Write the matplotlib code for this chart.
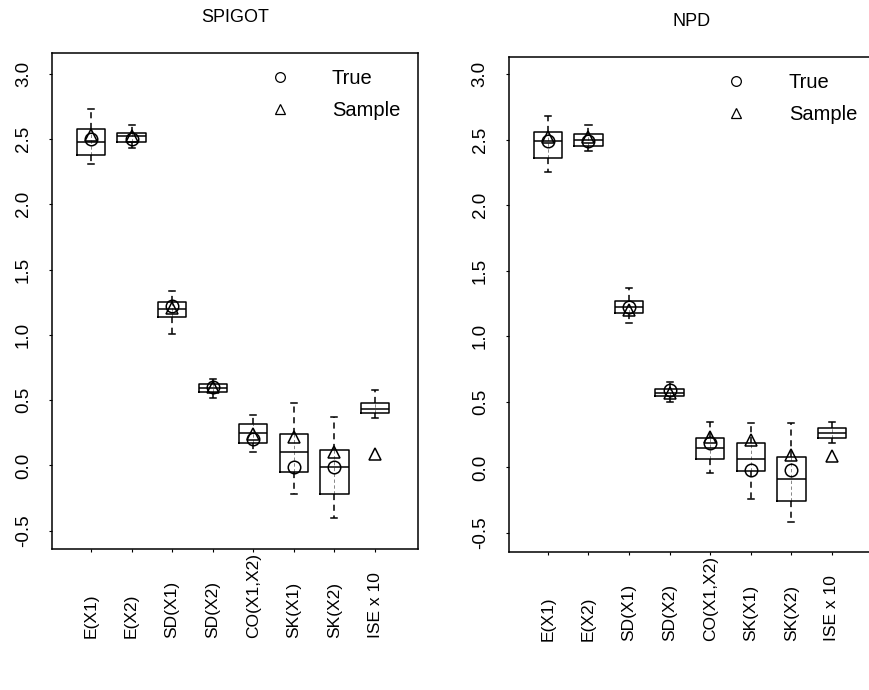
import numpy as np
import matplotlib.pyplot as plt
from matplotlib.lines import Line2D

plt.rcParams['font.family'] = ['Liberation Sans', 'DejaVu Sans']

labels = ["E(X1)", "E(X2)", "SD(X1)", "SD(X2)", "CO(X1,X2)", "SK(X1)", "SK(X2)", "ISE x 10"]

# SPIGOT panel
spigot_whislo = [2.31, 2.43, 1.01, 0.52, 0.10, -0.22, -0.405, 0.36]
spigot_q1 = [2.38, 2.475, 1.135, 0.56, 0.17, -0.05, -0.22, 0.40]
spigot_med = [2.48, 2.52, 1.195, 0.59, 0.25, 0.10, -0.015, 0.435]
spigot_q3 = [2.575, 2.55, 1.25, 0.625, 0.32, 0.24, 0.12, 0.475]
spigot_whishi = [2.73, 2.605, 1.34, 0.66, 0.39, 0.48, 0.375, 0.58]
spigot_true = [2.5, 2.5, 1.225, 0.6, 0.2, -0.01, -0.015, np.nan]
spigot_sample = [2.53, 2.52, 1.21, 0.60, 0.24, 0.215, 0.10, 0.09]

# NPD panel
npd_whislo = [2.25, 2.41, 1.10, 0.50, -0.04, -0.24, -0.42, 0.19]
npd_q1 = [2.36, 2.45, 1.18, 0.545, 0.065, -0.03, -0.255, 0.225]
npd_med = [2.49, 2.50, 1.225, 0.57, 0.15, 0.065, -0.09, 0.26]
npd_q3 = [2.56, 2.545, 1.27, 0.60, 0.225, 0.19, 0.08, 0.30]
npd_whishi = [2.68, 2.615, 1.37, 0.65, 0.35, 0.34, 0.34, 0.35]
npd_true = [2.49, 2.49, 1.22, 0.59, 0.19, -0.02, -0.02, np.nan]
npd_sample = [2.52, 2.52, 1.20, 0.57, 0.23, 0.21, 0.095, 0.09]


def panel(ax, title, whislo, q1, med, q3, whishi, true, sample, ylim):
    pos = np.arange(1, len(labels) + 1)
    stats = [dict(whislo=a, q1=b, med=c, q3=d, whishi=e)
             for a, b, c, d, e in zip(whislo, q1, med, q3, whishi)]
    ax.vlines(pos, q1, q3, color="0.45", lw=0.6, ls=(0, (4, 3)), zorder=1)
    ax.bxp(stats, positions=pos, widths=0.7, showfliers=False,
           boxprops=dict(color="black", lw=1.1),
           medianprops=dict(color="black", lw=1.1),
           whiskerprops=dict(color="black", lw=1.1, ls=(0, (4, 3))),
           capprops=dict(color="black", lw=1.1), capwidths=0.15)
    ax.plot(pos, true, ls="none", marker="o", ms=9, mfc="none", mec="black", mew=1.1)
    ax.plot(pos, sample, ls="none", marker="^", ms=9, mfc="none", mec="black", mew=1.1)

    ax.set_xlim(0.04, 9.06)
    ax.set_ylim(*ylim)
    ax.set_yticks([-0.5, 0.0, 0.5, 1.0, 1.5, 2.0, 2.5, 3.0])
    ax.set_yticklabels(["-0.5", "0.0", "0.5", "1.0", "1.5", "2.0", "2.5", "3.0"])
    ax.set_xticks(pos)
    ax.set_xticklabels(labels, rotation=90, fontsize=12.5)
    for t in ax.get_xticklabels():
        t.set_verticalalignment("bottom")
    for t in ax.get_yticklabels():
        t.set_verticalalignment("center")
    ax.tick_params(axis="x", length=2.5, width=0.8, pad=61.5)
    ax.tick_params(axis="y", length=2.5, width=0.8, pad=12, labelrotation=90, labelsize=13.5)
    for s in ax.spines.values():
        s.set_linewidth(1.1)
    ax.set_title(title, fontsize=13, pad=22)

    handles = [Line2D([], [], ls="none", marker="o", ms=7, mfc="none", mec="black", mew=0.9),
               Line2D([], [], ls="none", marker="^", ms=7, mfc="none", mec="black", mew=0.9)]
    ax.legend(handles, ["True", "Sample"], loc="upper left", bbox_to_anchor=(0.594, 0.968),
              frameon=False, fontsize=14.5, handlelength=1.0, handletextpad=2.1,
              labelspacing=0.65, borderpad=0, borderaxespad=0)


fig = plt.figure(figsize=(8.7, 6.9), dpi=100)
ax1 = fig.add_axes([0.0598, 0.2043, 0.4207, 0.719])
ax2 = fig.add_axes([0.585, 0.2000, 0.4207, 0.7174])

panel(ax1, "SPIGOT", spigot_whislo, spigot_q1, spigot_med, spigot_q3, spigot_whishi,
      spigot_true, spigot_sample, (-0.64, 3.16))
panel(ax2, "NPD", npd_whislo, npd_q1, npd_med, npd_q3, npd_whishi,
      npd_true, npd_sample, (-0.645, 3.13))

fig.savefig("out.png", dpi=100)
plt.close()
